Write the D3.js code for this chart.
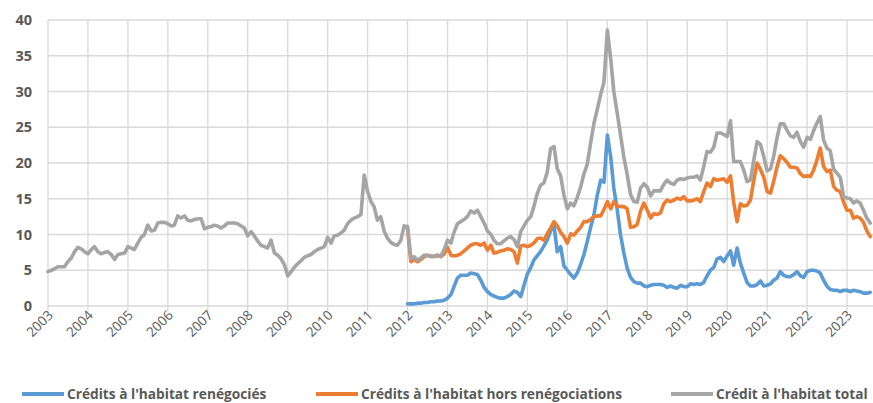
<!DOCTYPE html>
<html>
<head>
<meta charset="utf-8">
<script src="https://cdn.jsdelivr.net/npm/d3@7/dist/d3.min.js"></script>
<style>
  body { margin: 0; background: #fff; }
  svg { display: block; }
  .ylab { font-family: "Open Sans", sans-serif; font-weight: bold; font-size: 14.5px; fill: #595959; }
  .xlab { font-family: "Open Sans", sans-serif; font-size: 13.5px; fill: #595959; }
  .leg { font-family: "Open Sans", sans-serif; font-weight: bold; font-size: 13.7px; fill: #595959; }
</style>
</head>
<body>
<svg id="chart" width="873" height="403"></svg>
<script>
// monthly series, in billions of euros
const seriesNames = ["Crédits à l'habitat renégociés", "Crédits à l'habitat hors renégociations", "Crédit à l'habitat total"];
const seriesColors = ["#5B9BD5", "#ED7D31", "#A5A5A5"];
const yearLabels = ["2003", "2004", "2005", "2006", "2007", "2008", "2009", "2010", "2011", "2012", "2013",
                    "2014", "2015", "2016", "2017", "2018", "2019", "2020", "2021", "2022", "2023"];
const yTicks = [0, 5, 10, 15, 20, 25, 30, 35, 40];
const totalStart = [2003, 0];   // Jan 2003
const splitStart = [2012, 0];   // Jan 2012

const total = [
  4.8, 5.0, 5.2, 5.5, 5.5, 5.5, 6.2, 6.7, 7.6, 8.2, 8.0, 7.6,
  7.3, 7.9, 8.3, 7.6, 7.3, 7.5, 7.6, 7.2, 6.5, 7.2, 7.3, 7.4,
  8.3, 8.1, 7.9, 8.8, 9.6, 10.0, 11.3, 10.5, 10.6, 11.6, 11.7, 11.7,
  11.5, 11.2, 11.3, 12.6, 12.3, 12.6, 12.0, 11.9, 12.1, 12.2, 12.2, 10.8,
  11.0, 11.1, 11.3, 11.2, 10.9, 11.2, 11.6, 11.6, 11.6, 11.5, 11.2, 10.9,
  9.8, 10.4, 9.8, 9.1, 8.5, 8.3, 8.1, 9.2, 7.4, 7.1, 6.6, 5.8,
  4.2, 4.8, 5.4, 5.9, 6.3, 6.8, 7.0, 7.2, 7.6, 7.9, 8.1, 8.3,
  9.6, 8.8, 9.8, 9.9, 10.2, 10.6, 11.5, 12.0, 12.3, 12.5, 12.8, 18.3,
  16.0, 14.6, 13.9, 12.0, 12.5, 10.5, 9.5, 8.9, 8.6, 8.5, 9.2, 11.2,
  11.1, 6.6, 6.9, 6.4, 6.7, 7.1, 7.1, 6.9, 7.0, 7.1, 7.0, 7.9,
  9.2, 8.8, 10.3, 11.5, 11.8, 12.1, 12.5, 13.3, 13.0, 13.4, 12.5, 11.6,
  10.5, 10.0, 9.2, 8.7, 8.7, 9.1, 9.5, 9.7, 9.3, 8.3, 10.4, 11.2,
  12.0, 12.5, 13.9, 15.7, 16.9, 17.2, 18.7, 22.0, 22.3, 19.2, 18.2, 15.5,
  13.6, 14.4, 14.0, 15.2, 16.6, 18.5, 19.8, 22.8, 25.6, 27.5, 29.6, 31.3,
  38.6, 34.5, 30.0, 27.0, 24.0, 20.8, 18.4, 15.6, 14.6, 14.5, 16.5, 17.1,
  16.6, 15.4, 16.1, 16.1, 16.1, 17.0, 17.6, 17.2, 17.0, 17.6, 17.8, 17.7,
  17.9, 18.0, 18.0, 18.2, 17.6, 19.5, 21.6, 21.5, 22.2, 24.2, 24.2, 24.0,
  23.7, 25.9, 20.2, 20.2, 20.2, 19.0, 17.4, 17.6, 20.4, 23.0, 22.6, 20.9,
  18.9, 19.2, 20.9, 23.5, 25.5, 25.5, 24.6, 23.8, 23.6, 24.3, 23.0, 22.2,
  23.6, 23.3, 24.5, 25.6, 26.5, 23.2, 22.1, 21.7, 19.1, 18.6, 18.0, 15.3,
  15.1, 15.0, 14.4, 14.7, 14.4, 13.4, 12.3, 11.6
];

const horsReneg = [
  10.8, 6.2, 6.5, 6.2, 6.5, 6.9, 7.1, 7.0, 6.9, 7.1, 6.9, 7.3,
  8.2, 7.1, 7.0, 7.1, 7.3, 7.7, 8.1, 8.5, 8.7, 8.7, 8.5, 8.8,
  7.8, 8.5, 7.4, 7.5, 7.7, 7.8, 8.0, 7.9, 7.6, 6.0, 8.4, 8.5,
  8.3, 8.5, 8.8, 9.4, 9.5, 9.2, 10.1, 10.9, 11.8, 11.2, 10.3, 9.7,
  8.8, 10.1, 9.9, 10.5, 11.0, 11.8, 11.8, 12.1, 12.5, 12.6, 12.6, 13.5,
  14.6, 13.6, 14.6, 14.0, 13.9, 13.9, 13.6, 11.0, 11.1, 11.4, 13.3, 14.4,
  13.4, 12.3, 12.9, 12.8, 13.0, 14.3, 14.8, 14.6, 14.8, 15.1, 14.9, 15.3,
  14.7, 14.7, 14.8, 15.0, 14.6, 16.0, 17.2, 16.7, 17.8, 17.6, 17.7, 17.8,
  17.3, 18.2, 14.5, 11.8, 14.3, 14.0, 14.1, 14.8, 17.6, 20.0, 19.1, 18.0,
  16.0, 15.8, 17.4, 19.4, 21.0, 20.6, 20.1, 19.4, 19.4, 19.3, 18.5, 18.1,
  18.2, 18.1, 19.0, 20.4, 22.1, 19.5, 18.8, 19.0, 16.7, 16.2, 16.0, 14.5,
  13.4, 13.4, 12.3, 12.5, 12.3, 11.7, 10.5, 9.7
];

const reneg = [
  0.3, 0.3, 0.3, 0.4, 0.4, 0.5, 0.5, 0.6, 0.6, 0.7, 0.7, 0.8,
  1.1, 1.6, 2.7, 3.9, 4.3, 4.3, 4.3, 4.6, 4.5, 4.4, 3.6, 2.6,
  2.0, 1.6, 1.4, 1.2, 1.1, 1.1, 1.3, 1.6, 2.1, 1.9, 1.3, 2.9,
  4.5, 5.4, 6.4, 7.0, 7.6, 8.4, 9.2, 10.5, 11.3, 7.6, 8.3, 5.6,
  5.0, 4.4, 3.9, 4.6, 5.8, 7.2, 9.0, 11.0, 12.8, 15.5, 17.6, 17.3,
  23.9, 20.8, 16.5, 13.5, 10.0, 7.4, 5.3, 4.0, 3.4, 3.2, 3.2, 2.8,
  2.7, 2.9, 3.0, 3.0, 3.0, 2.9, 2.6, 2.8, 2.6, 2.5, 2.9, 2.7,
  2.7, 3.1, 3.0, 3.1, 3.0, 3.3, 4.2, 5.0, 5.4, 6.6, 6.8, 6.2,
  7.0, 7.7, 5.7, 8.1, 6.0, 4.6, 3.3, 2.8, 2.8, 3.0, 3.5, 2.8,
  2.9, 3.1, 3.6, 3.9, 4.8, 4.3, 4.1, 4.1, 4.4, 4.8, 4.2, 4.0,
  4.8, 5.0, 5.0, 4.9, 4.6, 3.6, 2.8, 2.3, 2.2, 2.2, 2.0, 2.2,
  2.2, 2.0, 2.2, 2.1, 2.0, 1.8, 1.8, 1.9
];

const toSeries = (values, start) =>
  values.map((v, i) => ({ date: new Date(start[0], start[1] + i, 1), value: v }));

const series = [
  toSeries(reneg, splitStart),
  toSeries(horsReneg, splitStart),
  toSeries(total, totalStart)
];

const plotLeft = 48, plotRight = 873, plotTop = 20, plotBottom = 306;

const svg = d3.select("#chart");

const x = d3.scaleTime()
  .domain([new Date(2003, 0, 1), new Date(2023, 0, 1)])
  .range([plotLeft, 847]);
const y = d3.scaleLinear().domain([0, 40]).range([plotBottom, plotTop]);

// horizontal grid
svg.append("g")
  .selectAll("line")
  .data(yTicks)
  .enter()
  .append("line")
  .attr("x1", plotLeft)
  .attr("x2", plotRight)
  .attr("y1", (d) => y(d))
  .attr("y2", (d) => y(d))
  .attr("stroke", "#d9d9d9")
  .attr("stroke-width", 1.3);

// vertical grid, one per year, running a little below the axis
const years = yearLabels.map((d) => new Date(+d, 0, 1));
svg.append("g")
  .selectAll("line")
  .data(years)
  .enter()
  .append("line")
  .attr("x1", (d) => x(d))
  .attr("x2", (d) => x(d))
  .attr("y1", plotTop)
  .attr("y2", plotBottom + 5)
  .attr("stroke", "#d9d9d9")
  .attr("stroke-width", 1.3);

// y labels
svg.append("g")
  .selectAll("text")
  .data(yTicks)
  .enter()
  .append("text")
  .attr("class", "ylab")
  .attr("x", 32)
  .attr("y", (d) => y(d) + 5)
  .attr("text-anchor", "end")
  .text((d) => d);

// x labels, rotated
svg.append("g")
  .selectAll("text")
  .data(years)
  .enter()
  .append("text")
  .attr("class", "xlab")
  .attr("text-anchor", "end")
  .attr("transform", (d) => "translate(" + (x(d) + 6) + "," + (plotBottom + 10) + ") rotate(-45)")
  .text((d, i) => yearLabels[i]);

const line = d3.line()
  .x((d) => x(d.date))
  .y((d) => y(d.value));

svg.append("g")
  .selectAll("path")
  .data(series)
  .enter()
  .append("path")
  .attr("d", line)
  .attr("fill", "none")
  .attr("stroke", (d, i) => seriesColors[i])
  .attr("stroke-width", 3.6)
  .attr("stroke-linejoin", "round")
  .attr("stroke-linecap", "round");

// legend
const legendX = [22, 316, 671];
const legend = svg.append("g");
legend.selectAll("line")
  .data(seriesNames)
  .enter()
  .append("line")
  .attr("x1", (d, i) => legendX[i])
  .attr("x2", (d, i) => legendX[i] + 42)
  .attr("y1", 394)
  .attr("y2", 394)
  .attr("stroke", (d, i) => seriesColors[i])
  .attr("stroke-width", 4);
legend.selectAll("text")
  .data(seriesNames)
  .enter()
  .append("text")
  .attr("class", "leg")
  .attr("x", (d, i) => legendX[i] + 45)
  .attr("y", 399)
  .text((d) => d);
</script>
</body>
</html>
